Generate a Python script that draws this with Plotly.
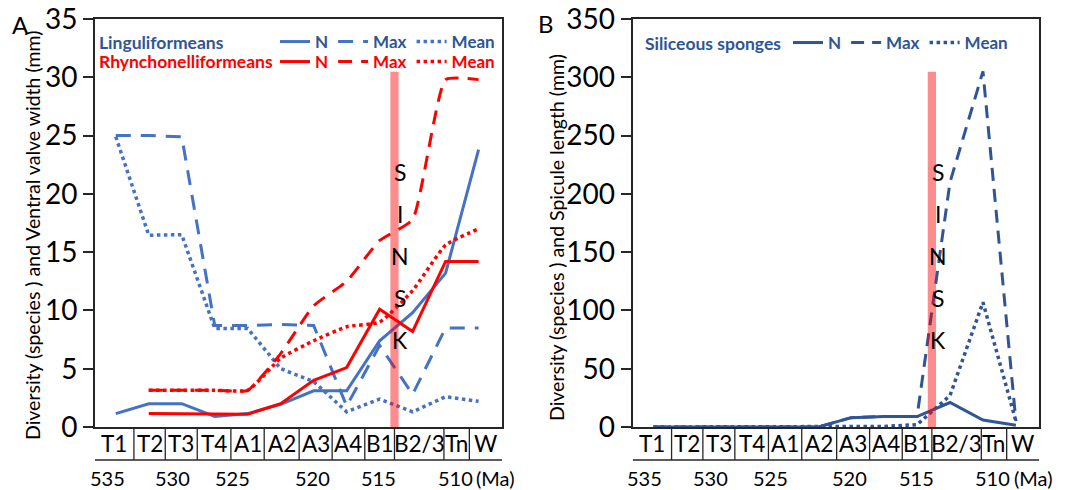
import plotly.graph_objects as go

# ---------------- data ----------------
stages = ["T1", "T2", "T3", "T4", "A1", "A2", "A3", "A4", "B1", "B2/3", "Tn", "W"]
stage_idx = list(range(len(stages)))
# stage box boundaries on the stage-index scale (boxes drawn under the x axis)
stage_edges = [-0.63, 0.55, 1.5, 2.47, 3.49, 4.5, 5.56, 6.56, 7.55, 8.45, 9.95, 10.72, 11.71]
ma_labels = ["535", "530", "525", "520", "515", "510"]
ma_pos = [-0.26, 1.72, 3.55, 5.95, 7.98, 10.29]
sinsk_at = 8.45  # B1 / B2-3 boundary
sinsk_letters = ["S", "I", "N", "S", "K"]

ling_n = [1.15, 2.0, 2.0, 0.9, 1.15, 1.95, 3.1, 3.1, 7.4, 9.8, 13.2, 23.8]
ling_max = [25.0, 25.0, 24.9, 8.7, 8.7, 8.8, 8.7, 1.8, 7.0, 2.8, 8.5, 8.5]
ling_mean = [24.9, 16.45, 16.5, 8.45, 8.45, 5.0, 3.9, 1.3, 2.4, 1.3, 2.6, 2.2]
rhyn_n = [None, 1.15, 1.15, 1.15, 1.1, 2.0, 4.0, 5.1, 10.1, 8.2, 14.2, 14.2]
rhyn_max = [None, 3.15, 3.15, 3.15, 3.15, 6.3, 10.4, 12.5, 16.0, 17.8, 29.8, 29.8]
rhyn_mean = [None, 3.15, 3.15, 3.15, 3.15, 5.9, 7.4, 8.6, 9.0, 11.7, 15.6, 17.0]
spon_n = [0, 0, 0, 0, 0, 0, 8, 9, 9, 21, 6, 1.5]
spon_max = [0, 0, 0, 0, 0, 0, 8, 9, 9, 210, 305, 5]
spon_mean = [0, 0, 0, 0, 0, 0, 0.5, 0.5, 2, 27, 107, 5]

# ---------------- style ----------------
FONT = "Lato"
BLUE = "#4472C4"
BLUE_TXT = "#2F5597"
RED = "#FF0000"
SPONGE = "#2F5597"
BAND = "rgba(255,0,0,0.45)"
AX = "#262626"

W, H = 1081, 490
dom_a = [95 / W, 502 / W]
dom_b = [632.7 / W, 1039.3 / W]
y_dom = [(H - 427) / H, (H - 19) / H]
row_bottom = (H - 460) / H
row_mid = (H - 443.5) / H
ma_y = (H - 478) / H

fig = go.Figure()


def add(y, color, dash, width, name, xa, ya, legend, shape="linear"):
    fig.add_trace(go.Scatter(
        x=stage_idx, y=y, mode="lines", name=name,
        line=dict(color=color, dash=dash, width=width, shape=shape, smoothing=0.45),
        xaxis=xa, yaxis=ya, legend=legend, connectgaps=False, hoverinfo="skip"))


add(ling_n, BLUE, "solid", 3, "N", "x", "y", "legend")
add(ling_max, BLUE, "15px,10px", 3, "Max", "x", "y", "legend")
add(ling_mean, BLUE, "dot", 3.5, "Mean", "x", "y", "legend")
add(rhyn_n, RED, "solid", 3, "N", "x", "y", "legend2")
add(rhyn_max, RED, "14px,9px", 3, "Max", "x", "y", "legend2", "spline")
add(rhyn_mean, RED, "dot", 3.5, "Mean", "x", "y", "legend2", "spline")
add(spon_n, SPONGE, "solid", 3, "N", "x2", "y2", "legend3")
add(spon_max, SPONGE, "13px,8px", 3, "Max", "x2", "y2", "legend3")
add(spon_mean, SPONGE, "dot", 3.5, "Mean", "x2", "y2", "legend3")

shapes = []
annotations = []
for xr, ymax_frac in (("x", 0.871), ("x2", 0.871)):
    ydom = f"{'y' if xr == 'x' else 'y2'} domain"
    # stage boxes below the plot
    for e in stage_edges[1:-1]:
        shapes.append(dict(type="line", xref=xr, yref="paper", x0=e, x1=e,
                           y0=row_bottom, y1=y_dom[0], line=dict(color=AX, width=1.3)))
    shapes.append(dict(type="line", xref=xr, yref="paper", x0=stage_edges[0], x1=stage_edges[-1],
                       y0=row_bottom, y1=row_bottom, line=dict(color=AX, width=1.3)))
    # SINSK band
    shapes.append(dict(type="rect", xref=xr, yref=ydom,
                       x0=sinsk_at - 0.125, x1=sinsk_at + 0.125, y0=0, y1=ymax_frac,
                       fillcolor=BAND, line=dict(width=0), layer="above"))
    for i, s in enumerate(stages):
        annotations.append(dict(xref=xr, yref="paper", x=(stage_edges[i] + stage_edges[i + 1]) / 2,
                                y=row_mid, text=s, showarrow=False, xanchor="center", yanchor="middle",
                                font=dict(family=FONT, size=22.5, color="black")))
    for lab, p in zip(ma_labels, ma_pos):
        annotations.append(dict(xref=xr, yref="paper", x=p, y=ma_y, text=lab, showarrow=False,
                                xanchor="center", yanchor="middle",
                                font=dict(family=FONT, size=20, color="black")))
    annotations.append(dict(xref=xr, yref="paper", x=ma_pos[-1], y=ma_y, text="(Ma)", showarrow=False,
                            xanchor="left", xshift=19, yanchor="middle",
                            font=dict(family=FONT, size=20, color="black")))
    for k, letter in enumerate(sinsk_letters):
        annotations.append(dict(xref=xr, yref=ydom, x=sinsk_at, xshift=6, y=0.625 - k * 0.1032,
                                text=letter, showarrow=False, xanchor="center", yanchor="middle",
                                font=dict(family=FONT, size=23, color="black")))

# group titles of the legends
for txt, xpos, ypos, col in (("Linguliformeans", 97, 42, BLUE_TXT),
                             ("Rhynchonelliformeans", 97, 62, RED),
                             ("Siliceous sponges", 643, 43, BLUE_TXT)):
    annotations.append(dict(xref="paper", yref="paper", x=xpos / W, y=(H - ypos) / H, text=txt,
                            showarrow=False, xanchor="left", yanchor="middle",
                            font=dict(family=FONT, size=17.5, color=col, weight="bold")))

# y-axis titles and panel letters
annotations.append(dict(xref="paper", yref="paper", x=32 / W, y=(H - 236) / H, textangle=-90,
                        xanchor="center", yanchor="middle",
                        text="Diversity (species ) and Ventral valve width (mm)", showarrow=False,
                        font=dict(family=FONT, size=19.5, color="black")))
annotations.append(dict(xref="paper", yref="paper", x=556 / W, y=(H - 238) / H, textangle=-90,
                        xanchor="center", yanchor="middle",
                        text="Diversity (species ) and Spicule length (mm)", showarrow=False,
                        font=dict(family=FONT, size=19.5, color="black")))
annotations.append(dict(xref="paper", yref="paper", x=20 / W, y=(H - 24) / H, text="A", showarrow=False,
                        xanchor="center", yanchor="middle",
                        font=dict(family=FONT, size=24, color="black")))
annotations.append(dict(xref="paper", yref="paper", x=546 / W, y=(H - 23) / H, text="B", showarrow=False,
                        xanchor="center", yanchor="middle",
                        font=dict(family=FONT, size=24, color="black")))

xcommon = dict(range=[stage_edges[0], stage_edges[-1]], showgrid=False, zeroline=False,
               showticklabels=False, ticks="", showline=True, linecolor=AX, linewidth=2, mirror=True)
ycommon = dict(showgrid=False, zeroline=False, showline=True, linecolor=AX, linewidth=2, mirror=True,
               ticks="outside", ticklen=10, tickwidth=2, tickcolor=AX,
               tickfont=dict(family=FONT, size=28, color="black"), domain=y_dom)

leg = dict(orientation="h", xanchor="left", yanchor="middle", bgcolor="rgba(0,0,0,0)",
           borderwidth=0, itemwidth=30, tracegroupgap=0, itemclick=False)

fig.update_layout(
    width=W, height=H, margin=dict(l=0, r=0, t=0, b=0, autoexpand=False),
    paper_bgcolor="white", plot_bgcolor="white",
    xaxis=dict(domain=dom_a, anchor="y", **xcommon),
    yaxis=dict(range=[0, 35], dtick=5, anchor="x", **ycommon),
    xaxis2=dict(domain=dom_b, anchor="y2", **xcommon),
    yaxis2=dict(range=[0, 350], dtick=50, anchor="x2", **ycommon),
    legend=dict(x=275 / W, y=(H - 42) / H, font=dict(family=FONT, size=17, color=BLUE_TXT, weight="bold"), **leg),
    legend2=dict(x=275 / W, y=(H - 62) / H, font=dict(family=FONT, size=17, color=RED, weight="bold"), **leg),
    legend3=dict(x=788 / W, y=(H - 43) / H, font=dict(family=FONT, size=17, color=BLUE_TXT, weight="bold"), **leg),
    shapes=shapes, annotations=annotations, showlegend=True,
)

fig.write_html("out.html")
